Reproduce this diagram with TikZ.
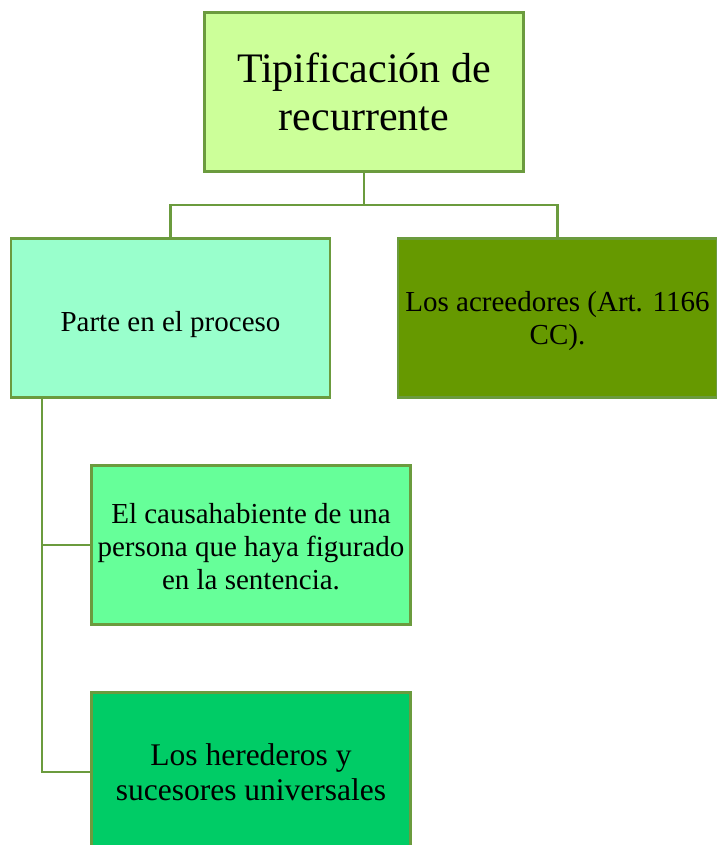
\documentclass[tikz,border=0pt]{standalone}
\usepackage{fontspec}
\setmainfont{Liberation Serif}
\definecolor{edgegreen}{RGB}{107,155,62}
\definecolor{topfill}{HTML}{CCFF99}
\definecolor{leftfill}{HTML}{99FFCC}
\definecolor{rightfill}{HTML}{669900}
\definecolor{onefill}{HTML}{66FF99}
\definecolor{twofill}{HTML}{00CC66}
\tikzset{
  boxnode/.style={draw=edgegreen, line width=2.2pt, rectangle, inner sep=2pt, align=center,
    minimum width=319pt, minimum height=159pt, text=black},
  conn/.style={draw=edgegreen, line width=2.2pt}
}
\begin{document}
\begin{tikzpicture}[x=1pt,y=-1pt]
\useasboundingbox (0,0) rectangle (716,845);
\node[boxnode, fill=topfill, font=\fontsize{42}{48}\selectfont] (top) at (364,92) {Tipificación de\\recurrente};
\node[boxnode, fill=leftfill, font=\fontsize{29}{33}\selectfont, text height=30pt, text depth=4pt] (left) at (170.5,318) {Parte en el proceso};
\node[boxnode, fill=rightfill, font=\fontsize{29}{33}\selectfont] (right) at (557.5,318) {\rule{0pt}{26pt}Los acreedores (Art. 1166\\CC).};
\node[boxnode, fill=onefill, font=\fontsize{29}{33}\selectfont] (one) at (251,545) {\rule{0pt}{23pt}El causahabiente de una\\persona que haya figurado\\en la sentencia.};
\node[boxnode, fill=twofill, font=\fontsize{31.5}{35}\selectfont] (two) at (251,772) {Los herederos y\\sucesores universales};
\coordinate (bar) at (364,205);
\coordinate (trunk) at ([xshift=32pt]left.south west);
\draw[conn] (top.south) -- (bar);
\draw[conn] (bar) -| (left.north);
\draw[conn] (bar) -| (right.north);
\draw[conn] (trunk) |- (one.west);
\draw[conn] (trunk) |- (two.west);
\end{tikzpicture}
\end{document}
